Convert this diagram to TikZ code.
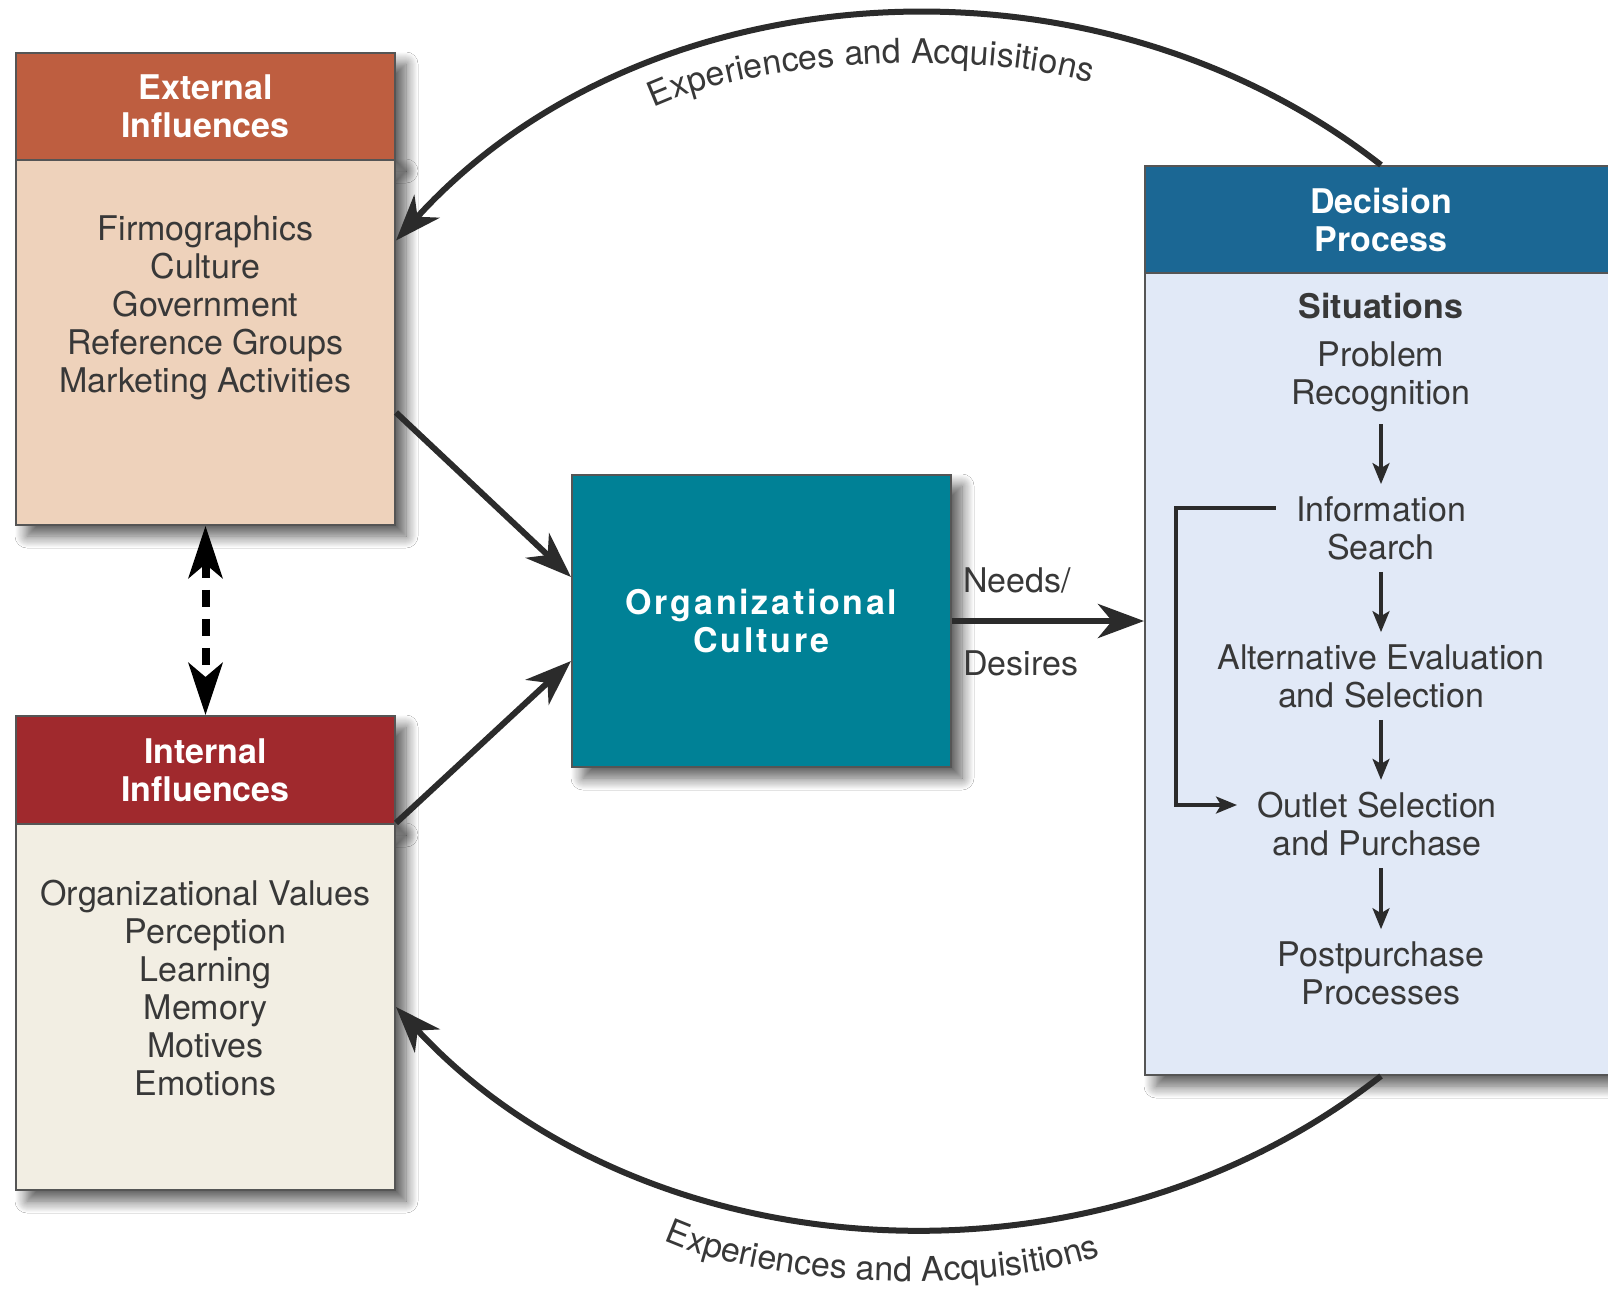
\documentclass[tikz,border=0pt]{standalone}
\usepackage{fontspec}
\setmainfont{TeX Gyre Heros}
\usetikzlibrary{arrows.meta,shadows.blur,decorations.text}
\definecolor{exthead}{HTML}{BE5E40}
\definecolor{extbodyc}{HTML}{EED2BB}
\definecolor{inthead}{HTML}{A0292D}
\definecolor{intbodyc}{HTML}{F2EEE3}
\definecolor{orgteal}{HTML}{008196}
\definecolor{dechead}{HTML}{1B6794}
\definecolor{decbodyc}{HTML}{E1E9F7}
\definecolor{textgray}{HTML}{383838}
\definecolor{boxline}{HTML}{555555}
\definecolor{arrowdark}{HTML}{2B2B2B}
\begin{document}
\begin{tikzpicture}[x=1pt,y=-1pt,
  boxbase/.style={draw=boxline, line width=2pt, inner sep=0pt},
  shade/.style={blur shadow={shadow xshift=11pt, shadow yshift=-11pt, shadow blur radius=12pt, shadow blur steps=12, shadow opacity=65}},
  headtext/.style={font=\fontsize{34}{38}\selectfont\bfseries, text=white, align=center},
  listtext/.style={font=\fontsize{34}{38}\selectfont, text=textgray, align=center, inner sep=0pt},
  stepitem/.style={font=\fontsize{34}{38}\selectfont, text=textgray, align=center, inner xsep=20pt, inner ysep=12pt},
  bigarrow/.style={draw=arrowdark, line width=6pt, -{Stealth[length=46pt,width=34pt,inset=14pt]}},
  steparrow/.style={draw=arrowdark, line width=3.2pt, -{Stealth[length=21pt,width=17pt,inset=5pt]}},
  curvearrow/.style={draw=arrowdark, line width=6pt, -{Stealth[length=46pt,width=34pt,inset=14pt]}},
  dasharrow/.style={draw=black, line width=8pt, dash pattern=on 17pt off 12pt,
    {Stealth[length=52pt,width=34pt,inset=14pt]}-{Stealth[length=52pt,width=34pt,inset=14pt]}},
  curvelabel/.style={decorate, decoration={text along path, text align=center,
    text={|\fontsize{34}{38}\selectfont\color{textgray}|Experiences and Acquisitions}}}
]
\useasboundingbox (0,0) rectangle (1608,1288);
\fill[white] (0,0) rectangle (1608,1288);

% External influences
\node[boxbase, shade, fill=exthead, minimum width=379pt, minimum height=107pt, headtext] (exthd) at (205.5,106.5) {External\\Influences};
\node[boxbase, shade, fill=extbodyc, minimum width=379pt, minimum height=365pt] (extbody) at (205.5,342.5) {};
\node[listtext] (extlist) at (205.5,308) {Firmographics\\Culture\\Government\\Reference Groups\\Marketing Activities};

% Internal influences
\node[boxbase, shade, fill=inthead, minimum width=379pt, minimum height=108pt, headtext] (inthd) at (205.5,770) {Internal\\Influences};
\node[boxbase, shade, fill=intbodyc, minimum width=379pt, minimum height=366pt] (intbody) at (205.5,1007) {};
\node[listtext] (intlist) at (205.5,988) {Organizational Values\\Perception\\Learning\\Memory\\Motives\\Emotions};

% Organizational culture
\node[boxbase, shade, fill=orgteal, minimum width=379pt, minimum height=292pt,
  font=\fontsize{34}{38}\selectfont\bfseries\addfontfeature{LetterSpace=8}, text=white, align=center] (org) at (761.5,621) {Organizational\\Culture};

% Decision process
\node[boxbase, shade, fill=dechead, minimum width=472pt, minimum height=107pt, headtext] (dechd) at (1381,219.5) {Decision\\Process};
\node[boxbase, shade, fill=decbodyc, minimum width=472pt, minimum height=802pt] (decbody) at (1381,674) {};

\node[font=\fontsize{34}{38}\selectfont\bfseries, text=textgray] (sit) at (1381,306) {Situations};
\node[stepitem] (prob) at (1381,377) {Problem\\Recognition};
\node[stepitem] (info) at (1381,528) {Information\\Search};
\node[stepitem] (alt) at (1381,676) {Alternative Evaluation\\and Selection};
\node[stepitem] (outlet) at (1377,824) {Outlet Selection\\and Purchase};
\node[stepitem] (post) at (1381,973) {Postpurchase\\Processes};

\draw[steparrow] (prob) -- (info);
\draw[steparrow] (info) -- (alt);
\draw[steparrow] (alt) -- (outlet.north -| alt.south);
\draw[steparrow] (outlet.south -| post.north) -- (post);
\draw[steparrow] ([yshift=20pt]info.west) -- ++(-100,0) |- ([yshift=19pt]outlet.west);

% Connectors between boxes
\draw[bigarrow] ([yshift=-70pt]extbody.east) -- ([yshift=44pt]org.west);
\draw[bigarrow] (intbody.north east) -- ([yshift=-40pt]org.west);
\draw[bigarrow] (org.east) -- (org.east -| decbody.west);
\draw[dasharrow] (extbody.south) -- (inthd.north);

\node[listtext, anchor=west] (needs) at (963,580) {Needs/};
\node[listtext, anchor=west] (desires) at (963,663) {Desires};

% Feedback curves
\draw[curvearrow] (dechd.north) .. controls (1088,-64) and (640,-29) .. ([yshift=102pt]extbody.east);
\draw[curvearrow] (decbody.south) .. controls (1088,1306) and (640,1271) .. (intbody.east);

\path[curvelabel] (645,112) .. controls (755,55) and (1000,50) .. (1100,86);
\path[curvelabel] (655,1236) .. controls (760,1290) and (1005,1296) .. (1110,1252);
\end{tikzpicture}
\end{document}
